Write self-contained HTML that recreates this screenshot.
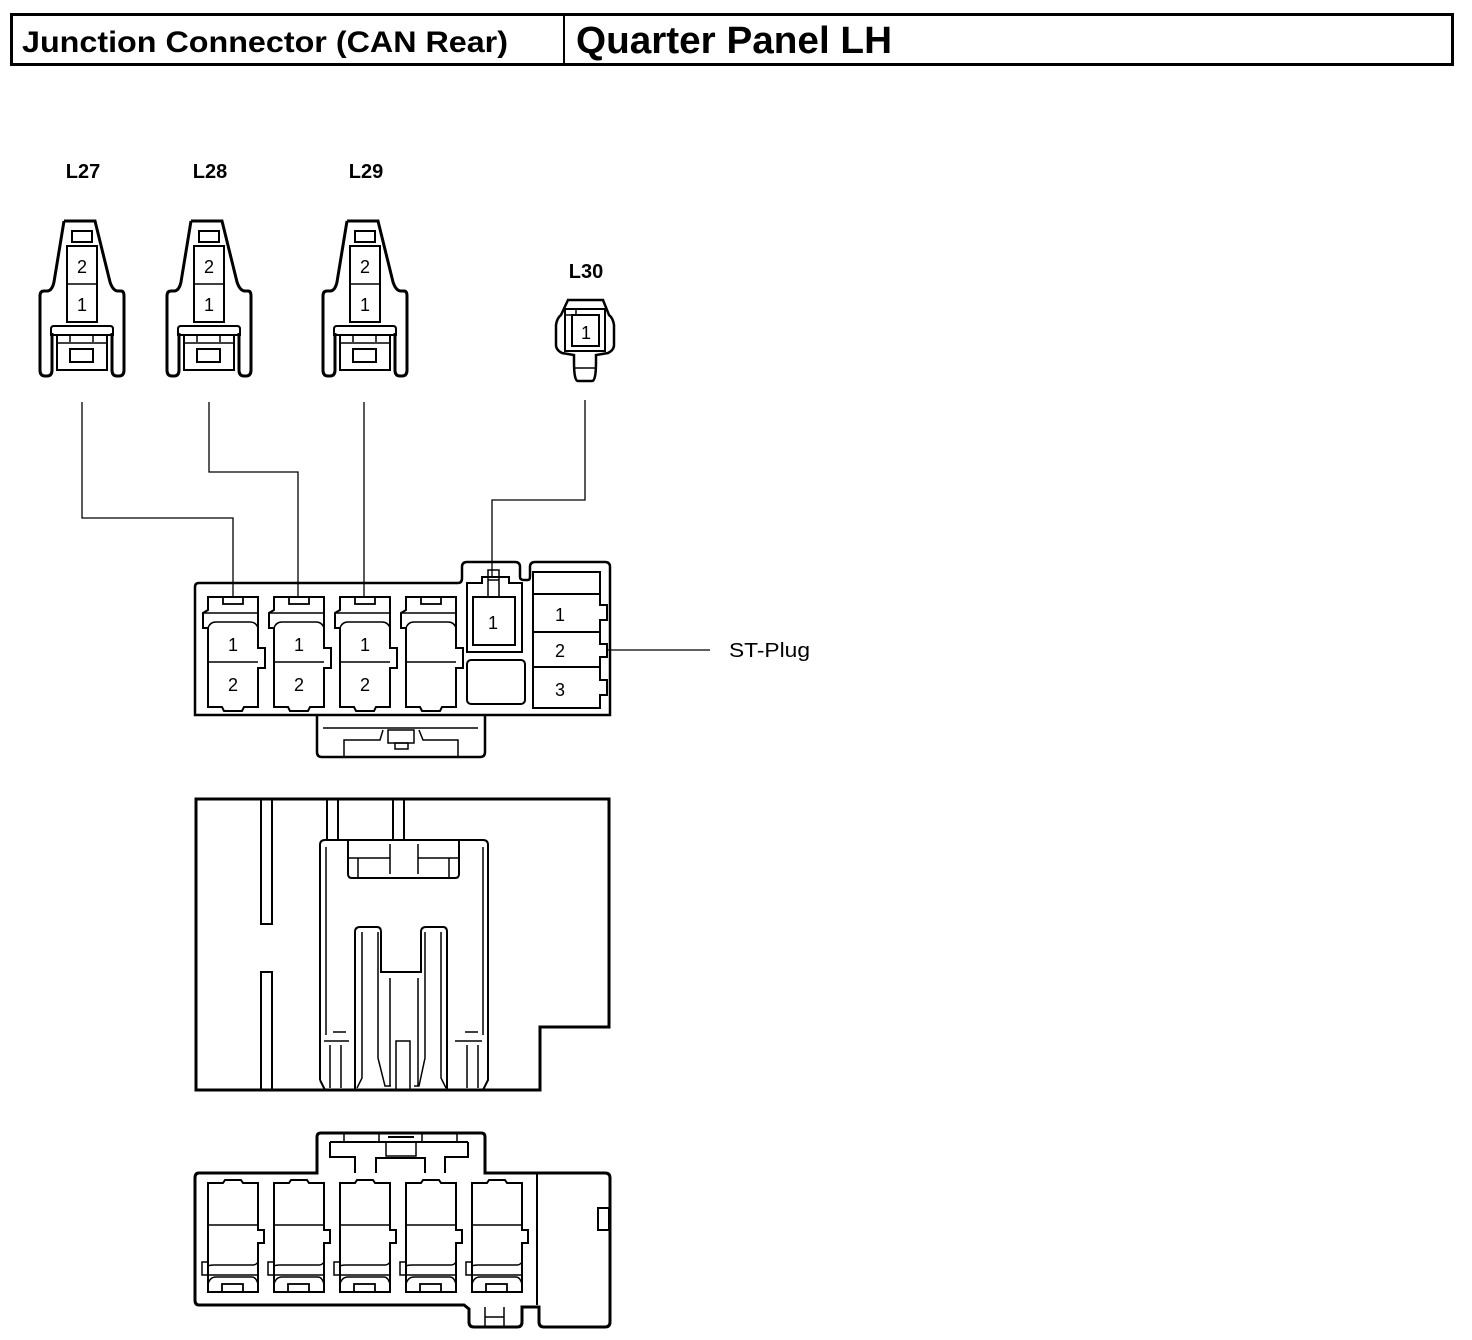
<!DOCTYPE html>
<html><head><meta charset="utf-8"><style>
html,body{margin:0;padding:0;background:#fff;}
svg{display:block;}
text{font-family:"Liberation Sans",Arial,sans-serif;fill:#000;}
</style></head><body>
<svg width="1472" height="1340" viewBox="0 0 1472 1340" xmlns="http://www.w3.org/2000/svg">
<g fill="none" stroke="#000">
<!-- header -->
<rect x="11.5" y="14.5" width="1441" height="50" stroke-width="3"/>
<line x1="564" y1="14" x2="564" y2="65" stroke-width="2"/>
</g>
<text x="22" y="52" font-size="30" font-weight="bold" textLength="486" lengthAdjust="spacingAndGlyphs">Junction Connector (CAN Rear)</text>
<text x="576" y="53" font-size="38" font-weight="bold" textLength="316" lengthAdjust="spacingAndGlyphs">Quarter Panel LH</text>

<!-- labels -->
<text x="83" y="178" font-size="20" font-weight="bold" text-anchor="middle">L27</text>
<text x="210" y="178" font-size="20" font-weight="bold" text-anchor="middle">L28</text>
<text x="366" y="178" font-size="20" font-weight="bold" text-anchor="middle">L29</text>
<text x="586" y="278" font-size="20" font-weight="bold" text-anchor="middle">L30</text>

<defs>
<g id="small">
<path d="M64,221 L95,221 L110,282 Q113,291 118,291 L121,291 Q124,291 124,296 L124,370 Q124,376 119,376 L117,376 Q112,376 112,370 L112,333 M52,333 L52,370 Q52,376 47,376 L45,376 Q40,376 40,370 L40,296 Q40,291 44,291 L47,291 Q52,291 54,282 L64,221" stroke-width="3" fill="none"/>
<rect x="72" y="231" width="20" height="11" stroke-width="2" fill="none"/>
<rect x="67" y="246" width="30" height="76" stroke-width="2" fill="none"/>
<line x1="67" y1="284" x2="97" y2="284" stroke-width="1.5"/>
<path d="M51,335 L51,329 Q51,326 54,326 L110,326 Q113,326 113,329 L113,335 Z" stroke-width="2" fill="none"/>
<path d="M57,335 L57,370 L107,370 L107,335" stroke-width="2" fill="none"/>
<line x1="57" y1="343" x2="107" y2="343" stroke-width="1.5"/>
<line x1="70" y1="335" x2="70" y2="342" stroke-width="1.5"/>
<line x1="93" y1="335" x2="93" y2="342" stroke-width="1.5"/>
<rect x="70" y="349" width="23" height="13" stroke-width="2" fill="none"/>
<text x="82" y="273" font-size="18" text-anchor="middle" stroke="none">2</text>
<text x="82" y="311" font-size="18" text-anchor="middle" stroke="none">1</text>
</g>
</defs>
<g stroke="#000">
<use href="#small"/>
<use href="#small" transform="translate(127,0)"/>
<use href="#small" transform="translate(283,0)"/>
</g>

<!-- L30 connector -->
<g fill="none" stroke="#000" stroke-width="2.5">
<path d="M568,300 L603,300 L609,315 Q613,318 614,325 L614,345 Q614,350 608,353 L596,355 L596,362 Q596,381 592,381 L578,381 Q574,381 574,362 L574,355 L562,353 Q556,350 556,345 L556,325 Q557,318 561,315 Z"/>
<rect x="565" y="309" width="40" height="42" stroke-width="2"/>
<rect x="572" y="315" width="27" height="31" stroke-width="2"/>
<rect x="565" y="309" width="11" height="6" stroke-width="1.5"/>
<line x1="575" y1="368" x2="596" y2="368" stroke-width="1.5"/>
</g>
<text x="586" y="339" font-size="18" text-anchor="middle">1</text>

<!-- wires -->
<g fill="none" stroke="#000" stroke-width="1.3">
<polyline points="82,402 82,518 233,518 233,597"/>
<polyline points="209,402 209,472 298,472 298,597"/>
<polyline points="364,402 364,597"/>
<polyline points="585,400 585,500 492,500 492,578"/>
<line x1="607" y1="650" x2="710" y2="650"/>
</g>
<text x="729" y="657" font-size="20" textLength="81" lengthAdjust="spacingAndGlyphs">ST-Plug</text>

<!-- main connector front -->
<g fill="none" stroke="#000" stroke-width="2.5">
<path d="M199,583 L458,583 Q462,583 462,578 L462,567 Q462,562 467,562 L515,562 Q520,562 520,567 L520,577 Q520,580 524,580 L528,580 Q530,580 530,576 L530,567 Q530,562 535,562 L605,562 Q610,562 610,567 L610,715 L195,715 L195,587 Q195,583 199,583 Z"/>
<path d="M317,715 L317,752 Q317,757 322,757 L480,757 Q485,757 485,752 L485,715"/>
</g>
<g fill="none" stroke="#000" stroke-width="1.5">
<line x1="323" y1="728" x2="478" y2="728"/>
<path d="M344,757 L344,740 L380,740 L383,730 M458,757 L458,740 L423,740 L419,730"/>
<rect x="388" y="730" width="26" height="13"/>
<rect x="395" y="743" width="13" height="6"/>
</g>
<defs>
<g id="cav">
<path d="M0,597 L0,610 L-5,613 L-5,628 L0,628 L0,707 L14,707 L16,711 L34,711 L36,707 L50,707 L50,668 L57,668 L57,648 L50,648 L50,628 L50,597 Z" fill="none" stroke-width="2"/>
<rect x="15" y="597" width="20" height="7" fill="none" stroke-width="1.8"/>
<path d="M-5,613 L50,613 M0,628 Q2,622 8,622 L42,622 Q48,622 50,628" fill="none" stroke-width="1.5"/>
<line x1="0" y1="662" x2="50" y2="662" stroke-width="1.5"/>
</g>
</defs>
<g stroke="#000">
<use href="#cav" transform="translate(208,0)"/>
<use href="#cav" transform="translate(274,0)"/>
<use href="#cav" transform="translate(340,0)"/>
<use href="#cav" transform="translate(406,0)"/>
</g>
<g font-size="18" text-anchor="middle">
<text x="233" y="651">1</text><text x="233" y="691">2</text>
<text x="299" y="651">1</text><text x="299" y="691">2</text>
<text x="365" y="651">1</text><text x="365" y="691">2</text>
</g>
<g fill="none" stroke="#000" stroke-width="2">
<path d="M467,652 L467,583 L482,583 L482,577 L509,577 L509,583 L522,583 L522,652 Z"/>
<rect x="473" y="597" width="42" height="48"/>
<rect x="488" y="570" width="11" height="27" stroke-width="1.5"/>
<line x1="488" y1="580" x2="499" y2="580" stroke-width="1.5"/>
<rect x="467" y="660" width="58" height="44" rx="4"/>
<path d="M533,572 L600,572 L600,594 L533,594 Z M533,594 L533,708 L600,708 L600,695 L607,695 L607,680 L600,680 L600,667 M533,632 L600,632 L600,620 L607,620 L607,605 L600,605 L600,594 M600,632 L600,644 L607,644 L607,657 L600,657 L600,667 L533,667"/>
</g>
<g font-size="18" text-anchor="middle">
<text x="493" y="629">1</text>
<text x="560" y="621">1</text><text x="560" y="657">2</text><text x="560" y="696">3</text>
</g>

<!-- middle view -->
<g fill="none" stroke="#000">
<path d="M196,799 L609,799 L609,1027 L540,1027 L540,1090 L196,1090 Z" stroke-width="3"/>
<g stroke-width="2">
<path d="M261,799 L261,924 L272,924 L272,799 M261,1090 L261,972 L272,972 L272,1090"/>
<path d="M327,799 L327,840 M338,799 L338,840 M393,799 L393,840 M404,799 L404,840"/>
<path d="M320,1080 L320,845 Q320,840 325,840 L483,840 Q488,840 488,845 L488,1080 L483,1090 M320,1080 L325,1090"/>
<path d="M348,840 L348,874 Q348,878 352,878 L455,878 Q459,878 459,874 L459,840"/>
<path d="M349,858 L390,858 M418,858 L458,858 M390,844 L390,874 M418,844 L418,874 M358,858 L358,878 M449,858 L449,878" stroke-width="1.5"/>
<path d="M326,847 L326,1035 M483,847 L483,1035" stroke-width="1.5"/>
<path d="M355,1090 L355,932 Q355,927 360,927 L377,927 Q381,927 381,932 L381,972 L421,972 L421,932 Q421,927 426,927 L443,927 Q447,927 447,932 L447,1090"/>
<path d="M362,932 L362,1078 L357,1088 M378,932 L378,1058 L385,1086 L391,1086 M425,932 L425,1058 L419,1086 L414,1086 M441,932 L441,1078 L446,1088 M390,978 L390,1086 M418,978 L418,1086" stroke-width="1.5"/>
<rect x="396" y="1041" width="14" height="49" stroke-width="1.5"/>
<path d="M324,1041 L349,1041 M333,1032 L346,1032 M455,1041 L482,1041 M465,1032 L478,1032 M330,1045 L330,1088 M341,1045 L341,1088 M467,1045 L467,1088 M478,1045 L478,1088" stroke-width="1.5"/>
</g>
</g>

<!-- bottom view -->
<g fill="none" stroke="#000">
<path d="M199,1173 L317,1173 L317,1137 Q317,1133 321,1133 L481,1133 Q485,1133 485,1137 L485,1173 L605,1173 Q610,1173 610,1178 L610,1322 Q610,1327 605,1327 L544,1327 Q539,1327 539,1322 L539,1307 L522,1307 L522,1322 Q522,1327 517,1327 L474,1327 Q469,1327 469,1322 L469,1309 L464,1305 L199,1305 Q195,1305 195,1300 L195,1178 Q195,1173 199,1173 Z" stroke-width="3"/>
<g stroke-width="2">
<line x1="537" y1="1174" x2="537" y2="1305"/>
<rect x="598" y="1208" width="11" height="22"/>
<path d="M330,1142 L468,1142 M330,1142 L330,1157 L355,1157 L355,1173 M468,1142 L468,1157 L445,1157 L445,1173 M376,1173 L376,1158 L425,1158 L425,1173"/>
<path d="M344,1134 L344,1142 M379,1134 L379,1142 M422,1134 L422,1142 M457,1134 L457,1142" stroke-width="1.5"/>
<rect x="386" y="1142" width="30" height="14" stroke-width="1.5"/>
<line x1="388" y1="1137" x2="414" y2="1137" stroke-width="2"/>
<path d="M485,1307 L485,1327 M504,1307 L504,1327 M485,1317 L504,1317" stroke-width="1.5"/>
</g>
</g>
<defs>
<g id="bcav">
<path d="M0,1292 L0,1183 L15,1183 L17,1180 L33,1180 L35,1183 L50,1183 L50,1230 L56,1230 L56,1243 L50,1243 L50,1292 Z" fill="none" stroke-width="2"/>
<path d="M0,1262 L-6,1262 L-6,1275 L50,1275 M0,1266 Q2,1265 6,1265 L45,1265 Q48,1265 50,1262 M0,1284 Q2,1277 8,1277 L44,1277 Q48,1277 50,1284 M50,1262 L50,1275" fill="none" stroke-width="1.5"/>
<line x1="0" y1="1225" x2="50" y2="1225" stroke-width="1.5"/>
<rect x="14" y="1284" width="21" height="8" fill="none" stroke-width="1.8"/>
</g>
</defs>
<g stroke="#000">
<use href="#bcav" transform="translate(208,0)"/>
<use href="#bcav" transform="translate(274,0)"/>
<use href="#bcav" transform="translate(340,0)"/>
<use href="#bcav" transform="translate(406,0)"/>
<use href="#bcav" transform="translate(472,0)"/>
</g>
</svg>
</body></html>
